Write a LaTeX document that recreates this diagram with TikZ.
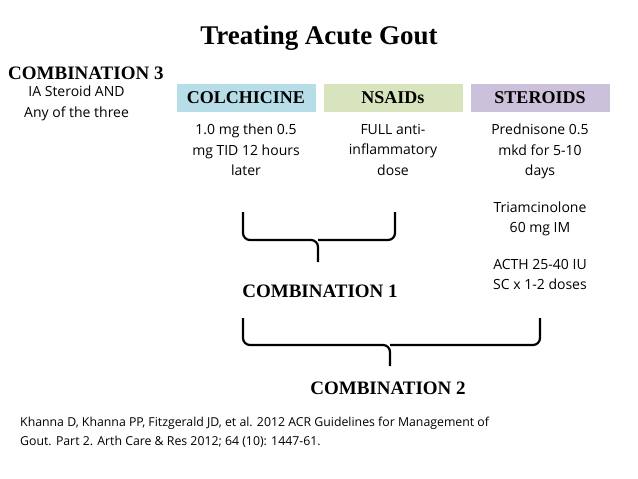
\documentclass[tikz,border=0pt]{standalone}
\usepackage{fontspec}
\setmainfont{Liberation Serif}
\newfontfamily\bodyfont{Open Sans}
\usetikzlibrary{positioning}
\definecolor{colchColor}{RGB}{183,221,232}
\definecolor{nsaidColor}{RGB}{215,228,189}
\definecolor{steroidColor}{RGB}{204,193,218}
\tikzstyle{drugBox} = [minimum width=139pt, minimum height=28pt, inner sep=0pt, font=\fontsize{18}{20}\selectfont\bfseries]
\tikzstyle{drugText} = [align=center, font=\bodyfont\fontsize{14}{20.5}\selectfont, anchor=north, inner sep=0pt]
\tikzstyle{comboText} = [font=\fontsize{19}{21}\selectfont\bfseries]
\tikzstyle{braceLine} = [line width=2.2pt, rounded corners=7pt]
\begin{document}
\begin{tikzpicture}[x=1pt, y=-1pt]
  \useasboundingbox (0,0) rectangle (638,479);
  \node (title) at (319,38) {\fontsize{27}{30}\selectfont\bfseries Treating Acute Gout};
  % column headers
  \node [drugBox, fill=colchColor] (colch) at (246,98) {COLCHICINE};
  \node [drugBox, fill=nsaidColor] (nsaid) at (393,98) {NSAIDs};
  \node [drugBox, fill=steroidColor] (steroid) at (540,98) {STEROIDS};
  % column texts
  \node [drugText] (colchText) at (246,124) {1.0 mg then 0.5\\mg TID 12 hours\\later};
  \node [drugText] (nsaidText) at (393,124) {FULL anti-\\inflammatory\\dose};
  \node [drugText] (steroidText) at (540,124) {Prednisone 0.5\\mkd for 5-10\\days\\[16pt]Triamcinolone\\60 mg IM\\[16pt]ACTH 25-40 IU\\SC x 1-2 doses};
  % combination 3
  \node [comboText, anchor=west, inner sep=0pt] (comboThree) at (8,73) {COMBINATION 3};
  \node [drugText, anchor=north west] (comboThreeText) at (24,86) {IA Steroid AND\\Any of the three};
  % braces
  \draw [braceLine] (243,212) -- (243,240) -- (318,240) -- (318,262);
  \draw [braceLine] (395,212) -- (395,240) -- (318,240);
  \node [comboText] (comboOne) at (320,291) {COMBINATION 1};
  \draw [braceLine] (243,318) -- (243,345) -- (390,345) -- (390,366);
  \draw [braceLine] (540,318) -- (540,345) -- (390,345);
  \node [comboText] (comboTwo) at (388,388) {COMBINATION 2};
  % reference
  \node [anchor=north west, align=left, inner sep=0pt, font=\bodyfont\fontsize{12.3}{18.5}\selectfont] (cite) at (20,417)
    {Khanna D, Khanna PP, Fitzgerald JD, et al. 2012 ACR Guidelines for Management of\\Gout. Part 2. Arth Care \& Res 2012; 64 (10): 1447-61.};
\end{tikzpicture}
\end{document}
